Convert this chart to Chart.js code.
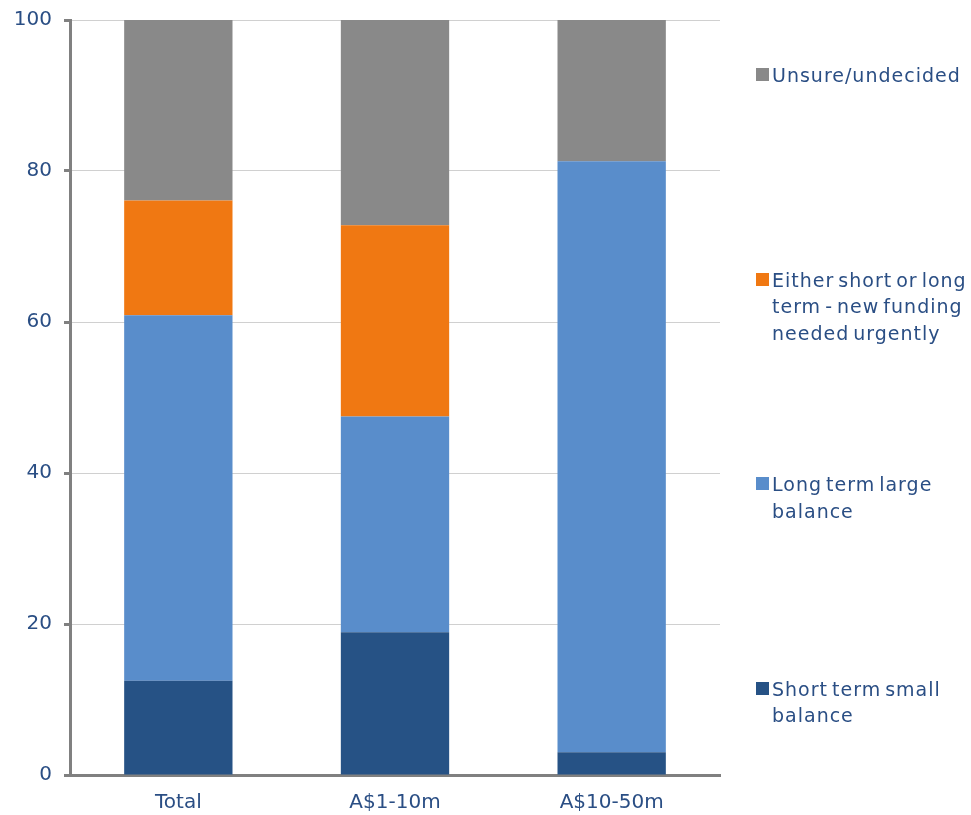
<!DOCTYPE html>
<html>
<head>
<meta charset="utf-8">
<script src="https://cdn.jsdelivr.net/npm/chart.js@4"></script>
<style>
  html, body { margin: 0; padding: 0; background: #fff; }
  #wrap { position: relative; width: 971px; height: 815px; }
  #legend {
    position: absolute; left: 756px; top: 62px;
    font-family: "DejaVu Sans", sans-serif; font-size: 19px;
    letter-spacing: 1px; word-spacing: -3px; color: #2a4e84; line-height: 26.5px;
    white-space: nowrap;
  }
  .item { height: 204.5px; position: relative; padding-left: 16px; }
  .swatch { position: absolute; left: 0; top: 6px; width: 13px; height: 13px; }
</style>
</head>
<body>
<div id="wrap">
  <canvas id="chart" width="971" height="815"></canvas>
  <div id="legend"></div>
</div>
<script>
const categories = ["Total", "A$1-10m", "A$10-50m"];

// stacked from the bottom up
const shortTerm = [12.5, 18.9, 3.0];
const longTerm = [48.4, 28.6, 78.3];
const eitherTerm = [15.2, 25.3, 0];
const unsure = [23.9, 27.2, 18.7];

const seriesNames = [
  ["Short term small", "balance"],
  ["Long term large", "balance"],
  ["Either short or long", "term - new funding", "needed urgently"],
  ["Unsure/undecided"],
];
const seriesColors = ["#265285", "#598dcb", "#f07812", "#898989"];
const yTicks = [0, 20, 40, 60, 80, 100];

const textColor = "#2a4e84";
const axisColor = "#808080";
const font = { family: "DejaVu Sans", size: 20 };

const datasets = [shortTerm, longTerm, eitherTerm, unsure].map((values, i) => ({
  label: seriesNames[i].join(" "),
  data: values,
  backgroundColor: seriesColors[i],
  borderWidth: 0,
  categoryPercentage: 1,
  barPercentage: 0.5,
}));

const chart = new Chart(document.getElementById("chart"), {
  type: "bar",
  data: { labels: categories, datasets },
  options: {
    responsive: false,
    animation: false,
    layout: { padding: { top: 20, right: 251, left: 0, bottom: 0 } },
    plugins: { legend: { display: false }, tooltip: { enabled: false } },
    scales: {
      x: {
        stacked: true,
        grid: { display: false, drawTicks: false },
        border: { color: axisColor, width: 3 },
        ticks: { color: textColor, font, padding: 16 },
        afterFit: (scale) => { scale.height = 40; },
      },
      y: {
        stacked: true,
        min: 0,
        max: 100,
        afterBuildTicks: (scale) => { scale.ticks = yTicks.map((v) => ({ value: v })); },
        grid: { color: "#d0d0d0", lineWidth: 1, tickColor: axisColor, tickLength: 6, tickWidth: 3 },
        border: { color: axisColor, width: 3 },
        ticks: { color: textColor, font, padding: 12 },
        afterFit: (scale) => {
          scale.width = 70;
          // let layout.padding alone decide the top edge
          scale.paddingTop = 0;
          scale.paddingBottom = 0;
        },
      },
    },
  },
});

// legend, top entry first
const legend = document.getElementById("legend");
datasets.slice().reverse().forEach((ds, idx) => {
  const i = datasets.length - 1 - idx;
  const item = document.createElement("div");
  item.className = "item";
  const swatch = document.createElement("span");
  swatch.className = "swatch";
  swatch.style.background = ds.backgroundColor;
  item.appendChild(swatch);
  const text = document.createElement("div");
  text.innerHTML = seriesNames[i].join("<br>");
  item.appendChild(text);
  legend.appendChild(item);
});
</script>
</body>
</html>
